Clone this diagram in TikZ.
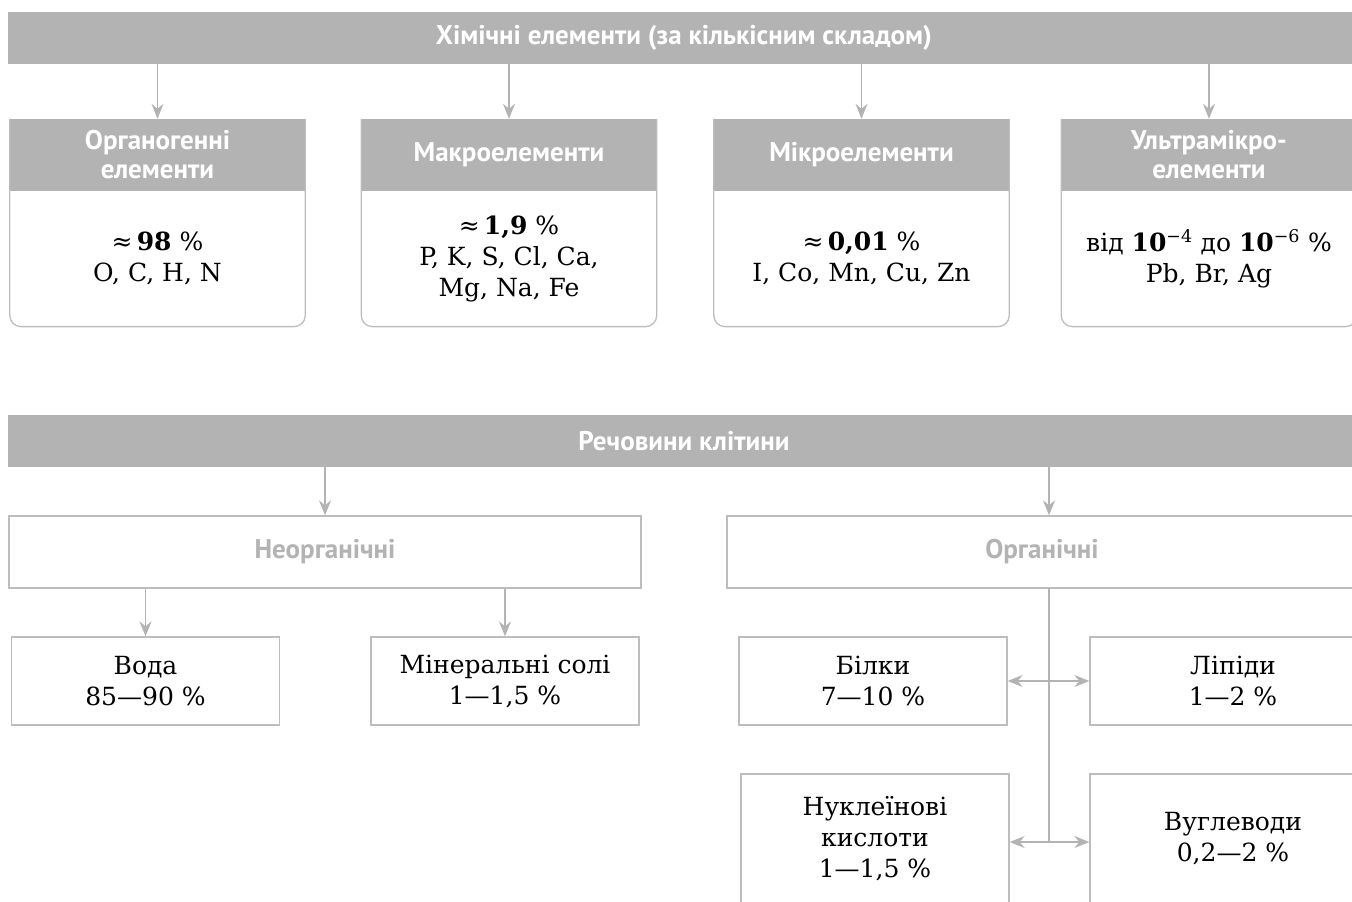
\documentclass[tikz,border=0pt]{standalone}
\usepackage{fontspec}
\setmainfont{DejaVu Serif}
\newfontfamily\headfont{PT Sans}
\usetikzlibrary{arrows.meta}
\definecolor{bargray}{HTML}{B3B3B3}
\definecolor{linegray}{HTML}{BDBDBD}

\begin{document}
\begin{tikzpicture}[x=1pt, y=-1pt,
		bar/.style={fill=bargray, minimum width=1352pt, minimum height=52pt, inner sep=0pt,
			text=white, font=\headfont\bfseries\fontsize{27}{29}\selectfont},
		head/.style={fill=bargray, minimum width=295pt, minimum height=72pt, inner sep=0pt,
			align=center, text=white, font=\headfont\bfseries\fontsize{27}{29}\selectfont},
		body/.style={minimum width=295pt, minimum height=135pt, inner sep=0pt,
			align=center, font=\fontsize{25}{31}\selectfont},
		frame/.style={draw=linegray, line width=1.3pt, rounded corners=11pt},
		group/.style={draw=linegray, line width=1.3pt, minimum height=72pt, inner sep=0pt,
			text=bargray, font=\headfont\bfseries\fontsize{27}{29}\selectfont},
		item/.style={draw=linegray, line width=1.3pt, minimum width=268pt, minimum height=88pt,
			inner sep=0pt, align=center, font=\fontsize{25}{31}\selectfont},
		arr/.style={draw=bargray, line width=1.4pt, -{Stealth[length=15pt, width=12pt, inset=5pt]}},
		both/.style={draw=bargray, line width=1.4pt,
			{Stealth[length=15pt, width=12pt, inset=5pt]}-{Stealth[length=15pt, width=12pt, inset=5pt]}}]
	\useasboundingbox (0,0) rectangle (1352,902);
	\clip (0,0) rectangle (1352,902);

	% chemical elements
	\node[bar] (chem) at (684,38) {Хімічні елементи (за кількісним складом)};

	\node[head] (h1) at (157.5,155) {Органогенні\\елементи};
	\node[head] (h2) at (509,155) {Макроелементи};
	\node[head] (h3) at (861.5,155) {Мікроелементи};
	\node[head] (h4) at (1209,155) {Ультрамікро-\\елементи};

	\node[body, anchor=north] (b1) at (h1.south) {≈\,\textbf{98}~\%\\O, C, H, N};
	\node[body, anchor=north] (b2) at (h2.south) {≈\,\textbf{1,9}~\%\\P, K, S, Cl, Ca,\\Mg, Na, Fe};
	\node[body, anchor=north] (b3) at (h3.south) {≈\,\textbf{0,01}~\%\\I, Co, Mn, Cu, Zn};
	\node[body, anchor=north] (b4) at (h4.south) {від \textbf{10}\textsuperscript{−4} до \textbf{10}\textsuperscript{−6}~\%\\Pb, Br, Ag};

	\foreach \n in {1,2,3,4} {
		\draw[frame] (h\n.north west) -- (h\n.south west) |- (b\n.south) -| (h\n.south east) -- (h\n.north east);
		\draw[arr] (chem.south -| h\n.north) -- (h\n.north);
	}

	% substances of the cell
	\node[bar] (subst) at (684,441) {Речовини клітини};

	\node[group, minimum width=632pt] (inorg) at (325,552) {Неорганічні};
	\node[group, minimum width=630pt] (org) at (1042,552) {Органічні};
	\coordinate (trunk) at (1049,588);

	\node[item] (water) at (145.5,681) {Вода\\85—90~\%};
	\node[item] (salts) at (505,681) {Мінеральні солі\\1—1,5~\%};
	\node[item] (prot) at (873,681) {Білки\\7—10~\%};
	\node[item, minimum width=286pt] (lipid) at (1233,681) {Ліпіди\\1—2~\%};
	\node[item, minimum height=130pt] (nucl) at (875,839) {Нуклеїнові\\кислоти\\1—1,5~\%};
	\node[item, minimum width=286pt, minimum height=130pt] (carb) at (1233,839) {Вуглеводи\\0,2—2~\%};

	\draw[arr] (subst.south -| inorg.north) -- (inorg.north);
	\draw[arr] (subst.south -| trunk) -- (trunk |- org.north);
	\draw[arr] (inorg.south -| water.north) -- (water.north);
	\draw[arr] (inorg.south -| salts.north) -- (salts.north);

	\draw[draw=bargray, line width=1.4pt] (trunk) -- (trunk |- 0,842);
	\draw[both] (prot.east) -- (lipid.west);
	\draw[both] (nucl.east |- 0,842) -- (carb.west |- 0,842);
\end{tikzpicture}
\end{document}
